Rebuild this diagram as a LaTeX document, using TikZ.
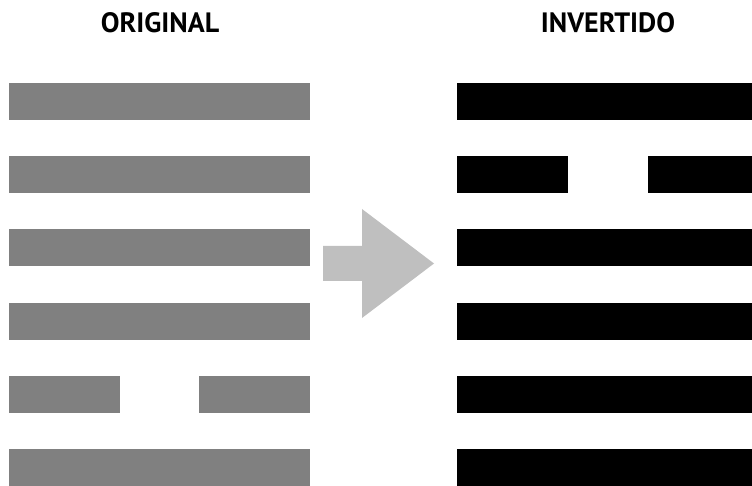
\documentclass[tikz,border=0pt]{standalone}
\usepackage{fontspec}
\setmainfont{PT Sans}
\tikzset{title/.style={font=\bfseries\fontsize{28}{32}\selectfont,anchor=base,inner sep=0pt},
  origbar/.style={fill=black!50},
  invbar/.style={fill=black},
  bigarrow/.style={fill=black!25}}

\begin{document}
\begin{tikzpicture}[x=1pt,y=-1pt]
    \useasboundingbox (0,0) rectangle (752,486);
    \node[title] (orig) at (160,33) {ORIGINAL};
    \node[title] (inv) at (608,33) {INVERTIDO};
    % left: rows 1-4 and 6 whole, row 5 broken
    \foreach \r in {1,2,3,4,6}
        \fill[origbar] (9,{83+73.2*(\r-1)}) rectangle ++(301,37);
    \fill[origbar] (9,375.8) rectangle ++(111,37);
    \fill[origbar] (199,375.8) rectangle ++(111,37);
    % right: row 2 broken
    \foreach \r in {1,3,4,5,6}
        \fill[invbar] (457,{83+73.2*(\r-1)}) rectangle ++(295,37);
    \fill[invbar] (457,156.2) rectangle ++(111,37);
    \fill[invbar] (648,156.2) rectangle ++(104,37);
    \fill[bigarrow] (323,246) -- (362,246) -- (362,209) -- (434,263.5)
        -- (362,318) -- (362,281) -- (323,281) -- cycle;
\end{tikzpicture}
\end{document}
